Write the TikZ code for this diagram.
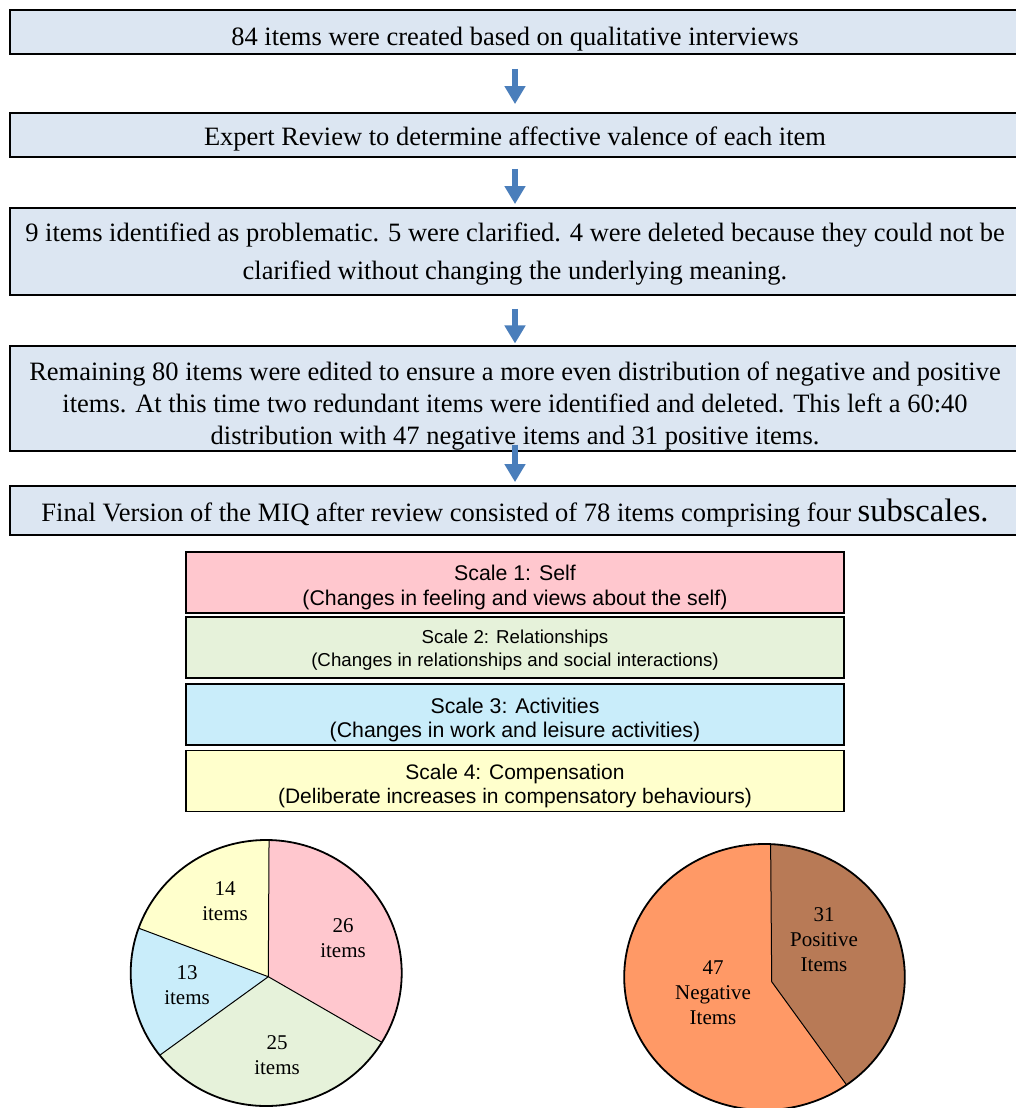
\documentclass[tikz,border=0pt]{standalone}
\usepackage{fontspec}
\setmainfont{Liberation Serif}
\setsansfont{Liberation Sans}
\usetikzlibrary{arrows.meta}
\definecolor{flowfill}{HTML}{DCE6F2}
\definecolor{arrowblue}{HTML}{4A7EBB}
\definecolor{selfc}{HTML}{FFC7CE}
\definecolor{relc}{HTML}{E6F2DA}
\definecolor{actc}{HTML}{C9EDFA}
\definecolor{compc}{HTML}{FFFFCC}
\definecolor{negc}{HTML}{FF9966}
\definecolor{posc}{HTML}{B87A56}
\newcommand{\lift}[1]{\rule{0pt}{#1}}
\begin{document}
\begin{tikzpicture}[x=1pt,y=-1pt,
  flow/.style={draw=black, line width=1.8pt, fill=flowfill, minimum width=1010pt,
    inner sep=0pt, align=center, font=\fontsize{26.5}{32}\selectfont},
  scalebox/.style={draw=black, line width=1.5pt, minimum width=658pt, minimum height=61pt,
    inner sep=0pt, align=center},
  bigarrow/.style={draw=arrowblue, line width=6pt, xshift=2pt,
    -{Triangle[width=20pt,length=18pt]}},
  pielab/.style={font=\fontsize{21}{25}\selectfont, align=center, inner sep=0pt},
  slice/.style={draw=black, line width=1pt},
  rim/.style={draw=black, line width=1.8pt}
]
\useasboundingbox (0,0) rectangle (1016,1108);
\fill[white] (0,0) rectangle (1016,1108);

\node[flow, minimum height=44pt, text height=33pt, text depth=6pt] (b1) at (515,32)
  {84 items were created based on qualitative interviews};
\node[flow, minimum height=44pt, text height=27.4pt, text depth=6pt] (b2) at (515,135)
  {Expert Review to determine affective valence of each item};
\node[flow, minimum height=87pt, font=\fontsize{26.5}{38}\selectfont] (b3) at (515,251.5)
  {\lift{24.5pt}9 items identified as problematic. 5 were clarified. 4 were deleted because they could not be\\clarified without changing the underlying meaning.};
\node[flow, minimum height=103pt] (b4) at (515,398.5)
  {\lift{34.5pt}Remaining 80 items were edited to ensure a more even distribution of negative and positive\\items. At this time two redundant items were identified and deleted. This left a 60:40\\distribution with 47 negative items and 31 positive items.};
\node[flow, minimum height=49pt, text height=27pt, text depth=6pt] (b5) at (515,510.5)
  {Final Version of the MIQ after review consisted of 78 items comprising four {\fontsize{32.5}{32}\selectfont subscales.}};

\draw[bigarrow, shorten <=14pt, shorten >=8pt] (b1.south) -- (b2.north);
\draw[bigarrow, shorten <=11pt, shorten >=3pt] (b2.south) -- (b3.north);
\draw[bigarrow, shorten <=13pt, shorten >=2pt] (b3.south) -- (b4.north);
\draw[bigarrow, shorten <=-7pt, shorten >=3pt] (b4.south) -- (b5.north);

\node[scalebox, fill=selfc, font=\sffamily\fontsize{21.3}{25}\selectfont] (s1) at (515,582.5)
  {\lift{25pt}Scale 1: Self\\(Changes in feeling and views about the self)};
\node[scalebox, fill=relc, font=\sffamily\fontsize{18.7}{23}\selectfont] (s2) at (515,647.5)
  {\lift{18.5pt}Scale 2: Relationships\\(Changes in relationships and social interactions)};
\node[scalebox, fill=actc, font=\sffamily\fontsize{21.3}{24}\selectfont] (s3) at (515,714.5)
  {\lift{26pt}Scale 3: Activities\\(Changes in work and leisure activities)};
\node[scalebox, fill=compc, font=\sffamily\fontsize{21}{24}\selectfont] (s4) at (515,781)
  {\lift{26pt}Scale 4: Compensation\\(Deliberate increases in compensatory behaviours)};

% left pie: ellipse centre (266.2,973), radii 135.5 x 133
\begin{scope}[shift={(266.2,973)}, yscale=-1]
  \coordinate (LO) at (2.1,-3.7);
  \fill[selfc] (LO) -- (88.8:135.5 and 133) arc[start angle=88.8, end angle=-31.4, x radius=135.5, y radius=133] -- cycle;
  \fill[relc] (LO) -- (-31.4:135.5 and 133) arc[start angle=-31.4, end angle=-141.8, x radius=135.5, y radius=133] -- cycle;
  \fill[actc] (LO) -- (-141.8:135.5 and 133) arc[start angle=-141.8, end angle=-199.7, x radius=135.5, y radius=133] -- cycle;
  \fill[compc] (LO) -- (-199.7:135.5 and 133) arc[start angle=-199.7, end angle=-271.2, x radius=135.5, y radius=133] -- cycle;
  \draw[slice] (LO) -- (88.8:135.5 and 133) (LO) -- (-31.4:135.5 and 133)
    (LO) -- (-141.8:135.5 and 133) (LO) -- (-199.7:135.5 and 133);
  \draw[rim] (0,0) ellipse[x radius=135.5, y radius=133];
\end{scope}
\node[pielab] (p26) at (343,938) {26\\items};
\node[pielab] (p14) at (225,901) {14\\items};
\node[pielab] (p13) at (187,985) {13\\items};
\node[pielab] (p25) at (277,1055) {25\\items};

% right pie: ellipse centre (764.5,977), radii 140.3 x 133
\begin{scope}[shift={(764.5,977)}, yscale=-1]
  \coordinate (RO) at (7.2,-4.7);
  \fill[negc] (0,0) ellipse[x radius=140.3, y radius=133];
  \fill[posc] (RO) -- (87.5:140.3 and 133) arc[start angle=87.5, end angle=-54.2, x radius=140.3, y radius=133] -- cycle;
  \draw[slice] (RO) -- (87.5:140.3 and 133) (RO) -- (-54.2:140.3 and 133);
  \draw[rim] (0,0) ellipse[x radius=140.3, y radius=133];
\end{scope}
\node[pielab] (p31) at (824,940) {31\\Positive\\Items};
\node[pielab] (p47) at (713,993) {47\\Negative\\Items};
\end{tikzpicture}
\end{document}
